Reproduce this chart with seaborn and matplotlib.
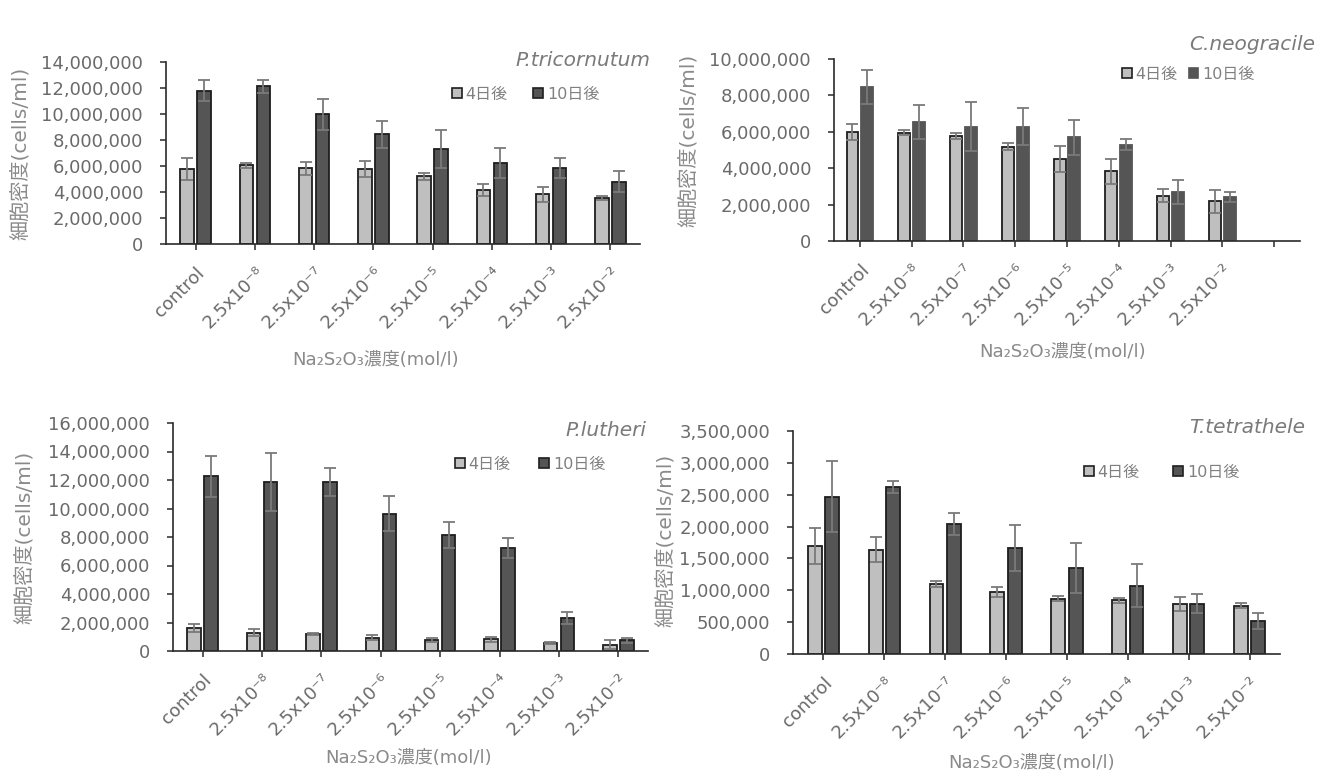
import numpy as np
import pandas as pd
import matplotlib
matplotlib.use("Agg")
import matplotlib.pyplot as plt
from matplotlib.patches import Patch
from matplotlib.ticker import FuncFormatter
import seaborn as sns

# ---- data (cells/ml, in millions) ----
concentrations = ["control", "2.5x10⁻⁸", "2.5x10⁻⁷", "2.5x10⁻⁶",
                  "2.5x10⁻⁵", "2.5x10⁻⁴", "2.5x10⁻³", "2.5x10⁻²"]
periods = ["4日後", "10日後"]

tricornutum_d4 = [5.75, 6.06, 5.83, 5.75, 5.21, 4.14, 3.83, 3.54]
tricornutum_d4_sd = [0.83, 0.20, 0.50, 0.60, 0.28, 0.46, 0.59, 0.18]
tricornutum_d10 = [11.79, 12.12, 9.97, 8.43, 7.30, 6.22, 5.81, 4.80]
tricornutum_d10_sd = [0.80, 0.47, 1.20, 1.07, 1.49, 1.13, 0.77, 0.82]

neogracile_d4 = [6.00, 5.96, 5.76, 5.19, 4.50, 3.82, 2.50, 2.18]
neogracile_d4_sd = [0.44, 0.15, 0.18, 0.20, 0.73, 0.70, 0.33, 0.62]
neogracile_d10 = [8.46, 6.54, 6.27, 6.27, 5.70, 5.30, 2.69, 2.43]
neogracile_d10_sd = [0.92, 0.92, 1.35, 1.02, 0.97, 0.29, 0.67, 0.27]

lutheri_d4 = [1.62, 1.29, 1.17, 0.94, 0.77, 0.82, 0.56, 0.44]
lutheri_d4_sd = [0.30, 0.25, 0.07, 0.16, 0.12, 0.16, 0.07, 0.33]
lutheri_d10 = [12.26, 11.86, 11.86, 9.64, 8.14, 7.23, 2.34, 0.75]
lutheri_d10_sd = [1.42, 2.03, 0.98, 1.24, 0.91, 0.72, 0.42, 0.16]

tetrathele_d4 = [1.70, 1.64, 1.10, 0.975, 0.866, 0.84, 0.79, 0.756]
tetrathele_d4_sd = [0.28, 0.20, 0.05, 0.08, 0.04, 0.04, 0.11, 0.04]
tetrathele_d10 = [2.47, 2.62, 2.04, 1.67, 1.35, 1.07, 0.79, 0.52]
tetrathele_d10_sd = [0.56, 0.09, 0.18, 0.36, 0.40, 0.34, 0.15, 0.12]

species = ["P.tricornutum", "C.neogracile", "P.lutheri", "T.tetrathele"]

# ---- style ----
sns.set_theme(style="white")
plt.rcParams["font.family"] = ["DejaVu Sans", "Noto Sans CJK JP"]

W, H = 1327, 774
LIGHT, DARK = "#bfbfbf", "#555555"
EDGE = "#1e1e1e"
TICK_TXT = "#6a6a6a"
LABEL_TXT = "#8a8a8a"

fig = plt.figure(figsize=(W / 100, H / 100), dpi=100)
fig.patch.set_facecolor("white")


def px_axes(left, right, top, bottom):
    return fig.add_axes([left / W, 1 - bottom / H, (right - left) / W, (bottom - top) / H])


panels = [
    dict(rect=(166, 640, 62, 244), d4=tricornutum_d4, d4sd=tricornutum_d4_sd,
         d10=tricornutum_d10, d10sd=tricornutum_d10_sd, ymax=14, step=2,
         title=(650, 60), legend=(452, 94), ylab=(20, 153), xlab=(376, 360),
         slots=8, dark_edge=True, colsp=1.6),
    dict(rect=(834, 1300, 59, 241), d4=neogracile_d4, d4sd=neogracile_d4_sd,
         d10=neogracile_d10, d10sd=neogracile_d10_sd, ymax=10, step=2,
         title=(1315, 45), legend=(1122, 74), ylab=(688, 140), xlab=(1063, 352),
         slots=9, dark_edge=False, colsp=0.7),
    dict(rect=(173, 648, 423, 651), d4=lutheri_d4, d4sd=lutheri_d4_sd,
         d10=lutheri_d10, d10sd=lutheri_d10_sd, ymax=16, step=2,
         title=(646, 430), legend=(455, 464), ylab=(24, 537), xlab=(409, 758),
         slots=8, dark_edge=True, colsp=1.8),
    dict(rect=(793, 1280, 431, 654), d4=tetrathele_d4, d4sd=tetrathele_d4_sd,
         d10=tetrathele_d10, d10sd=tetrathele_d10_sd, ymax=3.5, step=0.5,
         title=(1305, 428), legend=(1084, 472), ylab=(665, 540), xlab=(1032, 763),
         slots=8, dark_edge=True, colsp=2.1),
]

for name, p in zip(species, panels):
    ax = px_axes(*p["rect"])
    df = pd.DataFrame({
        "濃度": concentrations * 2,
        "期間": [periods[0]] * 8 + [periods[1]] * 8,
        "細胞密度": [v * 1e6 for v in p["d4"] + p["d10"]],
    })
    sns.barplot(data=df, x="濃度", y="細胞密度", hue="期間", order=concentrations,
                hue_order=periods, palette=[LIGHT, DARK], width=0.572, gap=0.2,
                edgecolor=EDGE, linewidth=1.3, errorbar=None, legend=False,
                saturation=1, ax=ax)

    # error bars at the centre of each drawn bar
    bar_groups = list(ax.containers)
    sds = [p["d4sd"], p["d10sd"]]
    for k, cont in enumerate(bar_groups):
        xs = [b.get_x() + b.get_width() / 2 for b in cont]
        ys = [b.get_height() for b in cont]
        ax.errorbar(xs, ys, yerr=np.array(sds[k]) * 1e6, fmt="none",
                    ecolor="#7a7a7a", elinewidth=1.3, capsize=4, capthick=1.3, zorder=5)
        if k == 1 and not p["dark_edge"]:
            for b in cont:
                b.set_edgecolor(DARK)

    # axes
    ax.set_ylim(0, p["ymax"] * 1e6)
    ax.set_yticks(np.arange(0, p["ymax"] + p["step"] / 2, p["step"]) * 1e6)
    ax.yaxis.set_major_formatter(FuncFormatter(lambda v, _: f"{v:,.0f}"))
    n = p["slots"]
    ax.set_xlim(-0.5, n - 0.5)
    ax.set_xticks(range(n))
    ax.set_xticklabels(concentrations + [""] * (n - 8), rotation=45, ha="right",
                       rotation_mode="anchor")
    ax.set_xlabel("")
    ax.set_ylabel("")
    for s in ["top", "right"]:
        ax.spines[s].set_visible(False)
    for s in ["left", "bottom"]:
        ax.spines[s].set_color("#2a2a2a")
        ax.spines[s].set_linewidth(1.2)
    ax.tick_params(axis="y", direction="out", length=4, width=1.1, color="#2a2a2a",
                   labelsize=13, labelcolor=TICK_TXT, pad=12.5, left=True)
    ax.tick_params(axis="x", direction="out", length=4, width=1.1, color="#2a2a2a",
                   labelsize=13, labelcolor=TICK_TXT, pad=10, bottom=True)
    ax.set_facecolor("white")

    # species name
    tx, ty = p["title"]
    fig.text(tx / W, 1 - ty / H, name, ha="right", va="center", fontsize=14.5,
             style="italic", color="#7a7a7a")

    # legend
    handles = [Patch(facecolor=LIGHT, edgecolor=EDGE, linewidth=1.2),
               Patch(facecolor=DARK, edgecolor=EDGE if p["dark_edge"] else DARK,
                     linewidth=1.2)]
    lx, ly = p["legend"]
    ax.legend(handles, periods, ncol=2, frameon=False, loc="center left",
              bbox_to_anchor=(lx / W, 1 - ly / H), bbox_transform=fig.transFigure,
              handlelength=0.6, handleheight=0.6, handletextpad=0.25,
              columnspacing=p["colsp"], fontsize=11.5, labelcolor="#808080",
              borderpad=0, borderaxespad=0)

    # axis titles
    yx, yy = p["ylab"]
    fig.text(yx / W, 1 - yy / H, "細胞密度(cells/ml)", rotation=90, ha="center",
             va="center", fontsize=14.5, color=LABEL_TXT)
    xx, xy = p["xlab"]
    fig.text(xx / W, 1 - xy / H, "Na₂S₂O₃濃度(mol/l)", ha="center",
             va="center", fontsize=13, color=LABEL_TXT)

fig.savefig("out.png", dpi=100, facecolor="white")
